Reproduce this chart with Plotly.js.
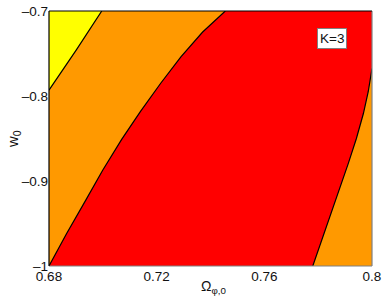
<!DOCTYPE html>
<html><head><meta charset="utf-8">
<script src="https://cdn.plot.ly/plotly-3.0.1.min.js"></script>
<style>html,body{margin:0;padding:0;background:#fff}</style>
</head><body>
<div id="chart" style="width:385px;height:300px"></div>
<script>
// Boundary curves (Omega_phi0, w0)
var yellowX = [0.68, 0.6901, 0.6996];
var yellowY = [-0.793, -0.746, -0.70];
var leftX = [0.68, 0.6865, 0.6934, 0.7000, 0.7070, 0.7140, 0.7215, 0.7290, 0.7370, 0.7455];
var leftY = [-1.0, -0.962, -0.924, -0.887, -0.851, -0.818, -0.785, -0.754, -0.725, -0.70];
var rightX = [0.778, 0.7846, 0.7912, 0.7942, 0.7968, 0.7986, 0.80];
var rightY = [-1.0, -0.940, -0.8793, -0.850, -0.8206, -0.795, -0.7677];
var xTicks = [0.68, 0.72, 0.76, 0.8];
var xTickText = ['0.68', '0.72', '0.76', '0.8'];
var yTicks = [-1, -0.9, -0.8, -0.7];
var yTickText = ['\u20131', '\u20130.9', '\u20130.8', '\u20130.7'];
var xRange = [0.68, 0.8];
var yRange = [-1, -0.7];
var labelText = 'K=3';
var labelPos = [0.7851, -0.7324];

// yellow region: top-left corner + yellow boundary
var yPolyX = [xRange[0]].concat(yellowX);
var yPolyY = [yRange[1]].concat(yellowY);
// red region: left curve, top-right corner, right curve reversed
var rPolyX = leftX.concat([xRange[1]]).concat(rightX.slice().reverse());
var rPolyY = leftY.concat([yRange[1]]).concat(rightY.slice().reverse());

var traces = [
  {x: yPolyX, y: yPolyY, mode: 'lines', fill: 'toself', fillcolor: '#FFFF00', line: {width: 0}, hoverinfo: 'skip'},
  {x: rPolyX, y: rPolyY, mode: 'lines', fill: 'toself', fillcolor: '#FF0000', line: {width: 0}, hoverinfo: 'skip'},
  {x: yellowX, y: yellowY, mode: 'lines', line: {color: '#000', width: 1.2}},
  {x: leftX, y: leftY, mode: 'lines', line: {color: '#000', width: 1.2}},
  {x: rightX, y: rightY, mode: 'lines', line: {color: '#000', width: 1.2}}
];

var font = {family: 'Liberation Sans, Arial, sans-serif', size: 13.5, color: '#111'};
var layout = {
  width: 385, height: 300,
  margin: {l: 49, r: 13, t: 11, b: 34},
  paper_bgcolor: '#fff', plot_bgcolor: '#FF9900',
  showlegend: false,
  font: font,
  xaxis: {range: xRange, tickvals: xTicks, ticktext: xTickText, showgrid: false, zeroline: false,
          ticks: '', showline: false, tickfont: font},
  yaxis: {range: yRange, tickvals: yTicks, ticktext: yTickText, showgrid: false, zeroline: false,
          ticks: '', showline: false, tickfont: font},
  shapes: [
    {type: 'line', xref: 'paper', yref: 'paper', x0: 0, x1: 1, y0: 0, y1: 0, line: {color: '#808080', width: 1.2}},
    {type: 'line', xref: 'paper', yref: 'paper', x0: 1, x1: 1, y0: 0, y1: 1, line: {color: '#808080', width: 1.2}},
    {type: 'line', xref: 'paper', yref: 'paper', x0: 0, x1: 1, y0: 1, y1: 1, line: {color: '#000', width: 1.2}},
    {type: 'line', xref: 'paper', yref: 'paper', x0: 0, x1: 0, y0: 0, y1: 1, line: {color: '#000', width: 1.2}}
  ],
  annotations: [
    {x: labelPos[0], y: labelPos[1], xref: 'x', yref: 'y', text: labelText, showarrow: false,
     bgcolor: '#fff', bordercolor: '#808080', borderwidth: 1, borderpad: 2, font: font},
    {x: 0.511, y: -0.04, xref: 'paper', yref: 'paper', yanchor: 'top', text: '\u03A9<sub>\u03C6,0</sub>', showarrow: false,
     font: {family: font.family, size: 14, color: '#111'}},
    {x: -0.11, y: 0.5, xref: 'paper', yref: 'paper', xanchor: 'center', text: 'w<sub>0</sub>', textangle: -90, showarrow: false,
     font: {family: font.family, size: 15, color: '#111'}}
  ]
};
Plotly.newPlot('chart', traces, layout, {displayModeBar: false, staticPlot: true});
</script>
</body></html>
